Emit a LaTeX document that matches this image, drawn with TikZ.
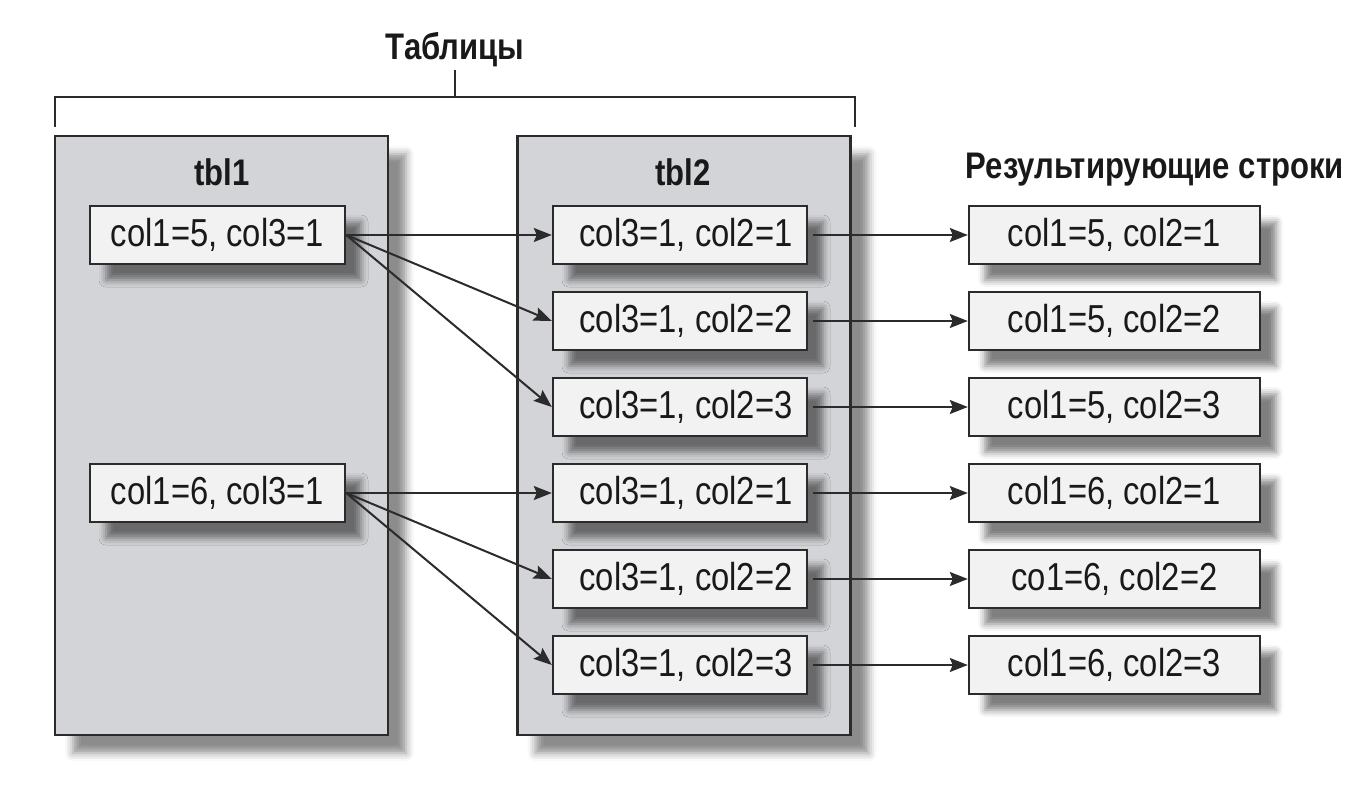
\documentclass[tikz,border=0pt]{standalone}
\usepackage{fontspec}
\setmainfont{Liberation Sans}[FakeStretch=0.84]
\usetikzlibrary{arrows.meta,shadows.blur}
\definecolor{tablegray}{HTML}{D3D4D7}
\definecolor{rowwhite}{HTML}{F2F2F2}
\definecolor{edgegray}{HTML}{2B2B2B}

\begin{document}
\begin{tikzpicture}[x=0.5pt, y=-0.5pt,
    tablebox/.style={draw=edgegray, line width=1.2pt, fill=tablegray, minimum width=166.5pt, minimum height=299.5pt,
        blur shadow={shadow xshift=9pt, shadow yshift=-9pt, shadow blur radius=4pt, shadow opacity=45}},
    rowbox/.style={draw=edgegray, line width=1.2pt, fill=rowwhite, minimum height=29pt, inner sep=0pt,
        font=\fontsize{19.5}{22}\selectfont, text=black!90,
        blur shadow={shadow xshift=8pt, shadow yshift=-8pt, shadow blur radius=3.5pt, shadow opacity=50}},
    headline/.style={anchor=base, font=\fontsize{18.5}{22}\selectfont\bfseries, text=black!90},
    link/.style={draw=edgegray, line width=1pt, -{Stealth[length=9pt, width=7pt, inset=1.5pt]}}]
    \useasboundingbox (0,0) rectangle (1372,787);

    % tables
    \node[tablebox] (tbl1) at (221.5,435.5) {};
    \node[tablebox] (tbl2) at (684,435.5) {};
    \node[headline] (tbl1title) at (222,185) {tbl1};
    \node[headline] (tbl2title) at (683,185) {tbl2};
    \node[headline] (tables) at (455,60) {Таблицы};
    \node[headline] (result) at (1155,178) {Результирующие строки};

    \draw[edgegray, line width=1pt] (55,127) -- (55,97) -- (855,97) -- (855,127);
    \draw[edgegray, line width=1pt] (455,97) -- (455,70);

    % rows of tbl1
    \node[rowbox, minimum width=127.5pt] (a1) at (217.5,235) {col1=5, col3=1};
    \node[rowbox, minimum width=127.5pt] (a2) at (217.5,493) {col1=6, col3=1};

    % rows of tbl2
    \node[rowbox, minimum width=127pt] (b1) at (680,235) {\hspace{6pt}col3=1, col2=1};
    \node[rowbox, minimum width=127pt] (b2) at (680,321) {\hspace{6pt}col3=1, col2=2};
    \node[rowbox, minimum width=127pt] (b3) at (680,407) {\hspace{6pt}col3=1, col2=3};
    \node[rowbox, minimum width=127pt] (b4) at (680,493) {\hspace{6pt}col3=1, col2=1};
    \node[rowbox, minimum width=127pt] (b5) at (680,579) {\hspace{6pt}col3=1, col2=2};
    \node[rowbox, minimum width=127pt] (b6) at (680,665) {\hspace{6pt}col3=1, col2=3};

    % result rows
    \node[rowbox, minimum width=145.5pt] (r1) at (1114.5,235) {col1=5, col2=1};
    \node[rowbox, minimum width=145.5pt] (r2) at (1114.5,321) {col1=5, col2=2};
    \node[rowbox, minimum width=145.5pt] (r3) at (1114.5,407) {col1=5, col2=3};
    \node[rowbox, minimum width=145.5pt] (r4) at (1114.5,493) {col1=6, col2=1};
    \node[rowbox, minimum width=145.5pt] (r5) at (1114.5,579) {co1=6, col2=2};
    \node[rowbox, minimum width=145.5pt] (r6) at (1114.5,665) {col1=6, col2=3};

    \foreach \i in {1,2,3}
        \draw[link] (a1.east) -- (b\i.west);
    \foreach \i in {4,5,6}
        \draw[link] (a2.east) -- (b\i.west);
    \foreach \i in {1,...,6}
        \draw[link] ([xshift=2.5pt]b\i.east) -- (r\i.west);
\end{tikzpicture}
\end{document}
